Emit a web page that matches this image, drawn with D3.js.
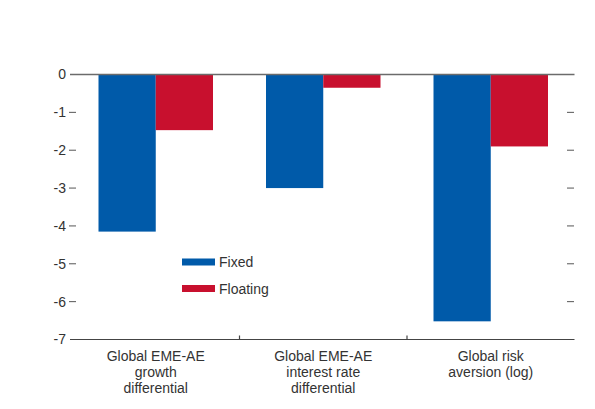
<!DOCTYPE html>
<html>
<head>
<meta charset="utf-8">
<script src="https://cdn.jsdelivr.net/npm/d3@7"></script>
<style>
  body { margin: 0; background: #fff; }
  svg text { font-family: "Liberation Sans", Arial, sans-serif; fill: #333; }
</style>
</head>
<body>
<svg class="chart" width="595" height="409"></svg>
<script>
var categories = [
    ["Global EME-AE", "growth", "differential"],
    ["Global EME-AE", "interest rate", "differential"],
    ["Global risk", "aversion (log)"]
];
var series = ["Fixed", "Floating"];
var fixed = [-4.15, -3.0, -6.52];
var floating = [-1.47, -0.35, -1.9];
var yTicks = [0, -1, -2, -3, -4, -5, -6, -7];
var colors = ["#005aa9", "#c8102e"];

var values = [fixed, floating];

// plot box, in pixels
var plot = {x0: 72, x1: 574.5, y0: 74.5, y1: 339.5};

var x = d3.scaleBand()
    .domain(d3.range(categories.length))
    .range([plot.x0, plot.x1]);

var xs = d3.scaleBand()
    .domain(series)
    .range([26.5, 141]);

var y = d3.scaleLinear()
    .domain([-7, 0])
    .range([plot.y1, plot.y0]);

var svg = d3.select('.chart');

// left tick labels
var yAxisL = d3.axisLeft(y)
    .tickValues(yTicks)
    .tickSize(0)
    .tickPadding(6)
    .tickFormat(d3.format("d"));

var gl = svg.append('g')
    .attr('transform', 'translate(' + plot.x0 + ',0)')
    .call(yAxisL);
gl.select('.domain').remove();
gl.selectAll('text')
    .style('font-size', '14px')
    .attr('fill', '#333')
    .text(function(d) { return d === 0 ? "0" : "-" + Math.abs(d); });

var inner = yTicks.filter(function(d) { return d !== 0 && d !== -7; });

svg.selectAll('.ltick')
    .data(inner)
    .enter().append('line')
    .attr('x1', 69).attr('x2', 76)
    .attr('y1', function(d) { return y(d); })
    .attr('y2', function(d) { return y(d); })
    .attr('stroke', '#555').attr('stroke-width', 1);

svg.selectAll('.rtick')
    .data(inner)
    .enter().append('line')
    .attr('x1', 567).attr('x2', 574)
    .attr('y1', function(d) { return y(d); })
    .attr('y2', function(d) { return y(d); })
    .attr('stroke', '#555').attr('stroke-width', 1);

// bars
var groups = svg.selectAll('.grp')
    .data(categories)
    .enter().append('g')
    .attr('transform', function(d, i) { return 'translate(' + x(i) + ',0)'; });

groups.selectAll('rect')
    .data(function(d, i) {
        return series.map(function(s, k) { return { s: s, k: k, v: values[k][i] }; });
    })
    .enter().append('rect')
    .attr('x', function(d) { return xs(d.s); })
    .attr('width', xs.bandwidth())
    .attr('y', y(0))
    .attr('height', function(d) { return y(d.v) - y(0); })
    .attr('fill', function(d) { return colors[d.k]; });

// zero line
svg.append('line')
    .attr('x1', 70).attr('x2', plot.x1)
    .attr('y1', y(0)).attr('y2', y(0))
    .attr('stroke', '#6b6b6b').attr('stroke-width', 1.6);

// bottom axis
svg.append('line')
    .attr('x1', 70).attr('x2', plot.x1)
    .attr('y1', y(-7)).attr('y2', y(-7))
    .attr('stroke', '#444').attr('stroke-width', 1.2);

svg.selectAll('.btick')
    .data([1, 2])
    .enter().append('line')
    .attr('x1', function(d) { return x(d); })
    .attr('x2', function(d) { return x(d); })
    .attr('y1', y(-7) - 4).attr('y2', y(-7))
    .attr('stroke', '#444').attr('stroke-width', 1.2);

// category labels
groups.append('text')
    .attr('text-anchor', 'middle')
    .style('font-size', '14px')
    .selectAll('tspan')
    .data(function(d) { return d; })
    .enter().append('tspan')
    .attr('x', x.bandwidth() / 2)
    .attr('y', function(d, j) { return 361 + j * 16; })
    .text(function(d) { return d; });

// legend
var legend = svg.selectAll('.leg')
    .data(series)
    .enter().append('g')
    .attr('transform', function(d, i) { return 'translate(182,' + (262 + i * 26.5) + ')'; });

legend.append('rect')
    .attr('x', 0).attr('y', -3.5)
    .attr('width', 33).attr('height', 7)
    .attr('fill', function(d, i) { return colors[i]; });

legend.append('text')
    .attr('x', 37).attr('y', 5)
    .style('font-size', '14px')
    .text(function(d) { return d; });
</script>
</body>
</html>
